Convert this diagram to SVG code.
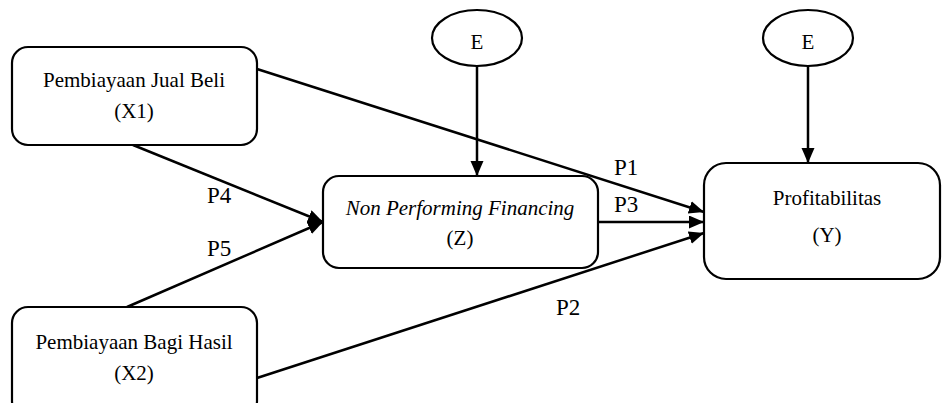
<svg xmlns="http://www.w3.org/2000/svg" width="942" height="403" viewBox="0 0 942 403">
<style>
.box{fill:#fff;stroke:#000;stroke-width:2.2}
text{font-family:'Liberation Serif','DejaVu Serif',serif;fill:#000}
.t{font-size:21px;text-anchor:middle}
.lbl{font-size:23px}
.c{stroke:#000;stroke-width:2.5;fill:none;marker-end:url(#ah)}
</style>
<defs>
<marker id="ah" markerUnits="userSpaceOnUse" markerWidth="16" markerHeight="14" refX="15" refY="6.5" orient="auto">
<path d="M0,0 L15,6.5 L0,13 z" fill="#000"/>
</marker>
</defs>
<rect width="942" height="403" fill="#fff"/>
<g id="connectors">
<line class="c" x1="257" y1="69" x2="704" y2="212"/>
<line class="c" x1="598" y1="222" x2="704" y2="222"/>
<line class="c" x1="257" y1="378" x2="704" y2="233"/>
<line class="c" x1="133" y1="145" x2="323" y2="222"/>
<line class="c" x1="127" y1="307" x2="323" y2="222"/>
<line class="c" x1="477" y1="65" x2="477" y2="176"/>
<line class="c" x1="808" y1="66" x2="808" y2="163"/>
</g>
<g id="labels">
<text class="lbl" x="614" y="175">P1</text>
<text class="lbl" x="614" y="212">P3</text>
<text class="lbl" x="556" y="315">P2</text>
<text class="lbl" x="207" y="203">P4</text>
<text class="lbl" x="207" y="256">P5</text>
</g>
<g id="x1">
<rect class="box" x="12" y="47" width="245" height="98" rx="16"/>
<text class="t" x="134" y="87">Pembiayaan Jual Beli</text>
<text class="t" x="134" y="118">(X1)</text>
</g>
<g id="x2">
<rect class="box" x="12" y="307" width="245" height="110" rx="16"/>
<text class="t" x="134" y="349">Pembiayaan Bagi Hasil</text>
<text class="t" x="134" y="380">(X2)</text>
</g>
<g id="z">
<rect class="box" x="323" y="176" width="275" height="92" rx="16"/>
<text class="t" x="460" y="215" font-style="italic">Non Performing Financing</text>
<text class="t" x="460" y="245">(Z)</text>
</g>
<g id="y">
<rect class="box" x="704" y="163" width="236" height="116" rx="22"/>
<text class="t" x="827" y="205">Profitabilitas</text>
<text class="t" x="827" y="242">(Y)</text>
</g>
<g id="e1">
<ellipse class="box" cx="477" cy="38" rx="45" ry="28"/>
<text class="t" x="477" y="49">E</text>
</g>
<g id="e2">
<ellipse class="box" cx="808" cy="38" rx="45" ry="28"/>
<text class="t" x="808" y="49">E</text>
</g>
</svg>
